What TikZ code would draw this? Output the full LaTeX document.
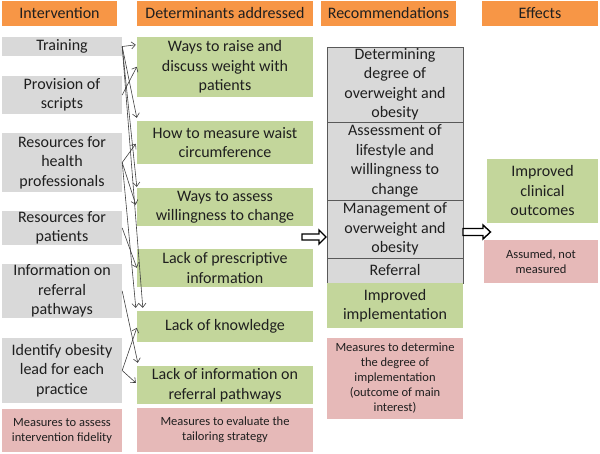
\documentclass[tikz,border=0pt]{standalone}
\usepackage{fontspec}
\setmainfont{Carlito}
\usetikzlibrary{arrows.meta,calc}
\definecolor{orng}{HTML}{F79646}
\definecolor{grn}{HTML}{C3D69B}
\definecolor{gry}{HTML}{D9D9D9}
\definecolor{pnk}{HTML}{E6B9B8}
\definecolor{txt}{HTML}{1F1F1F}
\tikzset{
 box/.style={rectangle, inner sep=0pt, align=center, text=txt, font=\fontsize{16}{19.5}\selectfont},
 hdr/.style={box, fill=orng},
 gbox/.style={box, fill=gry},
 grbox/.style={box, fill=grn},
 pbox/.style={box, fill=pnk, font=\fontsize{12.5}{15}\selectfont},
 rbox/.style={box, fill=gry, draw=black!65, line width=0.8pt},
 link/.style={draw=black!75, line width=0.6pt, -{Straight Barb[length=4pt,width=7pt]}},
 bigarrow/.style={draw=black, line width=1.4pt, fill=white, line join=miter},
}
\begin{document}
\begin{tikzpicture}[x=1pt,y=-1pt]
\useasboundingbox (0,0) rectangle (600,454);
% headers
\node[hdr, minimum width=115, minimum height=25] (hint) at (59.5,13.5) {Intervention};
\node[hdr, minimum width=176, minimum height=25] (hdet) at (225,13.5) {Determinants addressed};
\node[hdr, minimum width=135, minimum height=25] (hrec) at (388.5,13.5) {Recommendations};
\node[hdr, minimum width=116, minimum height=25] (heff) at (540,13.5) {Effects};
% interventions
\node[gbox, minimum width=120, minimum height=19] (training) at (62,46.5) {Training};
\node[gbox, minimum width=120, minimum height=38] (scripts) at (62,95) {Provision of\\scripts};
\node[gbox, minimum width=120, minimum height=59] (reshp) at (62,162.5) {Resources for\\health\\professionals};
\node[gbox, minimum width=120, minimum height=34] (respat) at (62,228) {Resources for\\patients};
\node[gbox, minimum width=120, minimum height=54] (inforef) at (62,291) {Information on\\referral\\pathways};
\node[gbox, minimum width=120, minimum height=65] (lead) at (62,370.5) {Identify obesity\\lead for each\\practice};
\node[pbox, minimum width=120, minimum height=43] (measfid) at (62,430.5) {Measures to assess\\intervention fidelity};
% determinants
\node[grbox, minimum width=176, minimum height=60] (raise) at (225,67) {Ways to raise and\\discuss weight with\\patients};
\node[grbox, minimum width=176, minimum height=43] (waist) at (225,142.5) {How to measure waist\\circumference};
\node[grbox, minimum width=176, minimum height=38] (assess) at (225,207) {Ways to assess\\willingness to change};
\node[grbox, minimum width=176, minimum height=38] (prescr) at (225,268) {Lack of prescriptive\\information};
\node[grbox, minimum width=176, minimum height=31] (know) at (225,326.5) {Lack of knowledge};
\node[grbox, minimum width=176, minimum height=38] (refinfo) at (225,385) {Lack of information on\\referral pathways};
\node[pbox, minimum width=176, minimum height=44] (meastail) at (225,430) {Measures to evaluate the\\tailoring strategy};
% recommendations
\node[rbox, minimum width=136, minimum height=75] (detdeg) at (395,84.5) {Determining\\degree of\\overweight and\\obesity};
\node[rbox, minimum width=136, minimum height=78] (asslife) at (395,161) {Assessment of\\lifestyle and\\willingness to\\change};
\node[rbox, minimum width=136, minimum height=58] (manage) at (395,229) {Management of\\overweight and\\obesity};
\node[rbox, minimum width=136, minimum height=25] (referral) at (395,270.5) {Referral};
\node[grbox, minimum width=136, minimum height=45] (implem) at (395,305.5) {Improved\\implementation};
\node[pbox, minimum width=136, minimum height=81] (measimp) at (395,378.5) {Measures to determine\\the degree of\\implementation\\(outcome of main\\interest)};
% effects
\node[grbox, minimum width=111, minimum height=64] (clinical) at (542.5,191) {Improved\\clinical\\outcomes};
\node[pbox, minimum width=114, minimum height=43] (assumed) at (541,261.5) {Assumed, not\\measured};
% thin links
\draw[link] (training.east) -- ($(raise.north west)+(-1,8)$);
\draw[link] (training.east) -- ($(waist.north west)+(0,-3)$);
\draw[link] (training.east) -- ($(assess.north west)+(0,-1)$);
\draw[link] (training.east) -- ($(know.north west)+(6,-3)$);
\draw[link] (scripts.east) -- ($(raise.north west)+(0,30)$);
\draw[link] (reshp.east) -- ($(waist.north west)+(-1,23)$);
\draw[link] (reshp.east) -- ($(assess.north west)+(-1,17)$);
\draw[link] (reshp.east) -- ($(know.north west)+(-1,-3)$);
\draw[link] (respat.east) -- ($(prescr.north west)+(0,19)$);
\draw[link] (inforef.east) -- ($(refinfo.north west)+(1,-3)$);
\draw[link] (lead.east) -- ($(know.north west)+(0,17)$);
\draw[link] (lead.east) -- ($(refinfo.north west)+(-1,17)$);
% big hollow arrows
\draw[bigarrow] (302,234) -- (319,234) -- (319,230) -- (326,237) -- (319,244) -- (319,240) -- (302,240) -- cycle;
\draw[bigarrow] (463,228.5) -- (483,228.5) -- (483,225) -- (490.5,232) -- (483,239) -- (483,235.5) -- (463,235.5) -- cycle;
\end{tikzpicture}
\end{document}
